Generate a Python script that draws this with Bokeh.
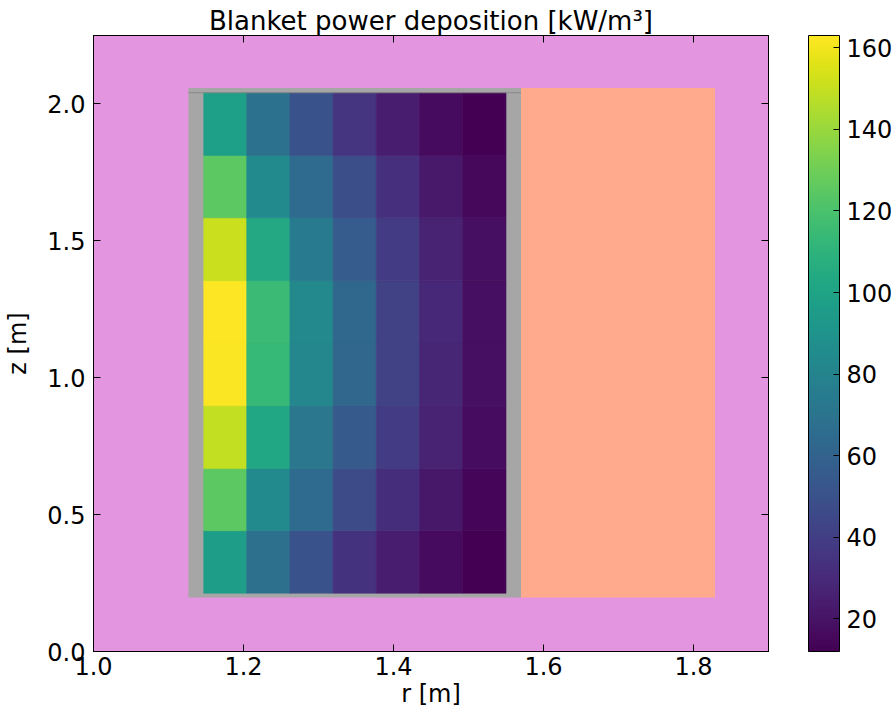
from bokeh.plotting import figure
from bokeh.models import (ColumnDataSource, LinearColorMapper, ColorBar, FixedTicker,
                          LinearAxis, Range1d, NumeralTickFormatter)
from bokeh.palettes import Viridis256
from bokeh.embed import file_html
from bokeh.resources import INLINE

# ---- data ----
r_edges = [1.147, 1.2043, 1.2619, 1.3195, 1.3771, 1.4347, 1.4923, 1.550]
z_edges = [0.213, 0.441, 0.668, 0.898, 1.127, 1.354, 1.584, 1.812, 2.041]
# power deposition [kW/m^3], rows bottom -> top, columns inner -> outer r
power = [
    [96, 68, 50, 34, 24, 16.5, 12],
    [125, 84, 65, 47, 32, 22, 14],
    [149, 102, 72, 55, 38, 27, 17],
    [162, 113, 82, 62, 41, 28, 18],
    [163, 115, 83, 63, 42, 28.6, 18],
    [151, 103, 74, 56, 39, 27, 18],
    [125, 84, 65, 48, 33, 22.5, 15],
    [97, 69, 50, 35, 24, 16.5, 12],
]
# structural regions (r_min, r_max, z_min, z_max)
casing = (1.1266, 1.570, 0.197, 2.058)
outer_region = (1.570, 1.8286, 0.197, 2.058)
cbar_low, cbar_high = 12, 163
cbar_ticks = [20, 40, 60, 80, 100, 120, 140, 160]
x_ticks = [1.0, 1.2, 1.4, 1.6, 1.8]
y_ticks = [0.0, 0.5, 1.0, 1.5, 2.0]

FONT = "DejaVu Sans"
FS = "24px"

left, right, bottom, top, val = [], [], [], [], []
for i, row in enumerate(power):
    for j, v in enumerate(row):
        left.append(r_edges[j]); right.append(r_edges[j + 1])
        bottom.append(z_edges[i]); top.append(z_edges[i + 1])
        val.append(v)
src = ColumnDataSource(dict(left=left, right=right, bottom=bottom, top=top, val=val))

mapper = LinearColorMapper(palette=Viridis256, low=cbar_low, high=cbar_high)

p = figure(width=896, height=711, output_backend="svg", toolbar_location=None,
           x_range=Range1d(1.0, 1.9), y_range=Range1d(0.0, 2.25),
           frame_width=675, frame_height=616,
           min_border_left=93, min_border_top=35, min_border_bottom=60, min_border_right=0)
p.background_fill_color = "#e396df"
p.border_fill_color = "white"
p.grid.visible = False
p.outline_line_color = "black"
p.outline_line_width = 1

p.quad(left=[casing[0]], right=[casing[1]], bottom=[casing[2]], top=[casing[3]],
       fill_color="#a6a6a6", line_color=None)
p.quad(left=[outer_region[0]], right=[outer_region[1]], bottom=[outer_region[2]], top=[outer_region[3]],
       fill_color="#ffaa8c", line_color=None)
p.quad(left="left", right="right", bottom="bottom", top="top", source=src,
       fill_color={"field": "val", "transform": mapper},
       line_color={"field": "val", "transform": mapper}, line_width=0.6)
p.segment(x0=[casing[0]], x1=[casing[1]], y0=[z_edges[-1]], y1=[z_edges[-1]],
          line_color="#8a8a8a", line_width=1)

# title
p.title.text = "Blanket power deposition [kW/m³]"
p.title.text_font = FONT
p.title.text_font_size = "26px"
p.title.text_font_style = "normal"
p.title.text_color = "black"
p.title.align = "center"
p.title.standoff = 0
p.title.offset = 0

def style_axis(ax, labels=True):
    ax.major_tick_in = 7
    ax.major_tick_out = 0
    ax.minor_tick_in = 0
    ax.minor_tick_out = 0
    ax.axis_line_color = "black"
    ax.major_tick_line_color = "black"
    ax.major_label_text_font = FONT
    ax.major_label_text_font_size = FS if labels else "0px"
    ax.major_label_text_color = "black"
    ax.axis_label_text_font = FONT
    ax.axis_label_text_font_size = FS
    ax.axis_label_text_font_style = "normal"
    ax.axis_label_text_color = "black"
    if not labels:
        ax.major_label_standoff = 0

xa = p.xaxis[0]
ya = p.yaxis[0]
xa.ticker = FixedTicker(ticks=x_ticks)
ya.ticker = FixedTicker(ticks=y_ticks)
xa.formatter = NumeralTickFormatter(format="0.0")
ya.formatter = NumeralTickFormatter(format="0.0")
style_axis(xa); style_axis(ya)
xa.axis_label = "r [m]"
ya.axis_label = "z [m]"
xa.major_label_standoff = 5
ya.major_label_standoff = 8
xa.axis_label_standoff = 2
ya.axis_label_standoff = 12

ta = LinearAxis(ticker=FixedTicker(ticks=x_ticks))
ra = LinearAxis(ticker=FixedTicker(ticks=y_ticks))
style_axis(ta, labels=False); style_axis(ra, labels=False)
p.add_layout(ta, "above")
p.add_layout(ra, "right")

cb = ColorBar(color_mapper=mapper, ticker=FixedTicker(ticks=cbar_ticks),
              width=31, height=616, padding=0, margin=0, location=(40, 0),
              bar_line_color="black", bar_line_width=1,
              major_tick_line_color="black", major_tick_in=6, major_tick_out=0,
              minor_tick_line_color=None,
              label_standoff=7, major_label_text_font=FONT,
              major_label_text_font_size=FS, major_label_text_color="black",
              background_fill_color=None, border_line_color=None)
p.add_layout(cb, "right")

open("out.html", "w").write(file_html(p, INLINE))
